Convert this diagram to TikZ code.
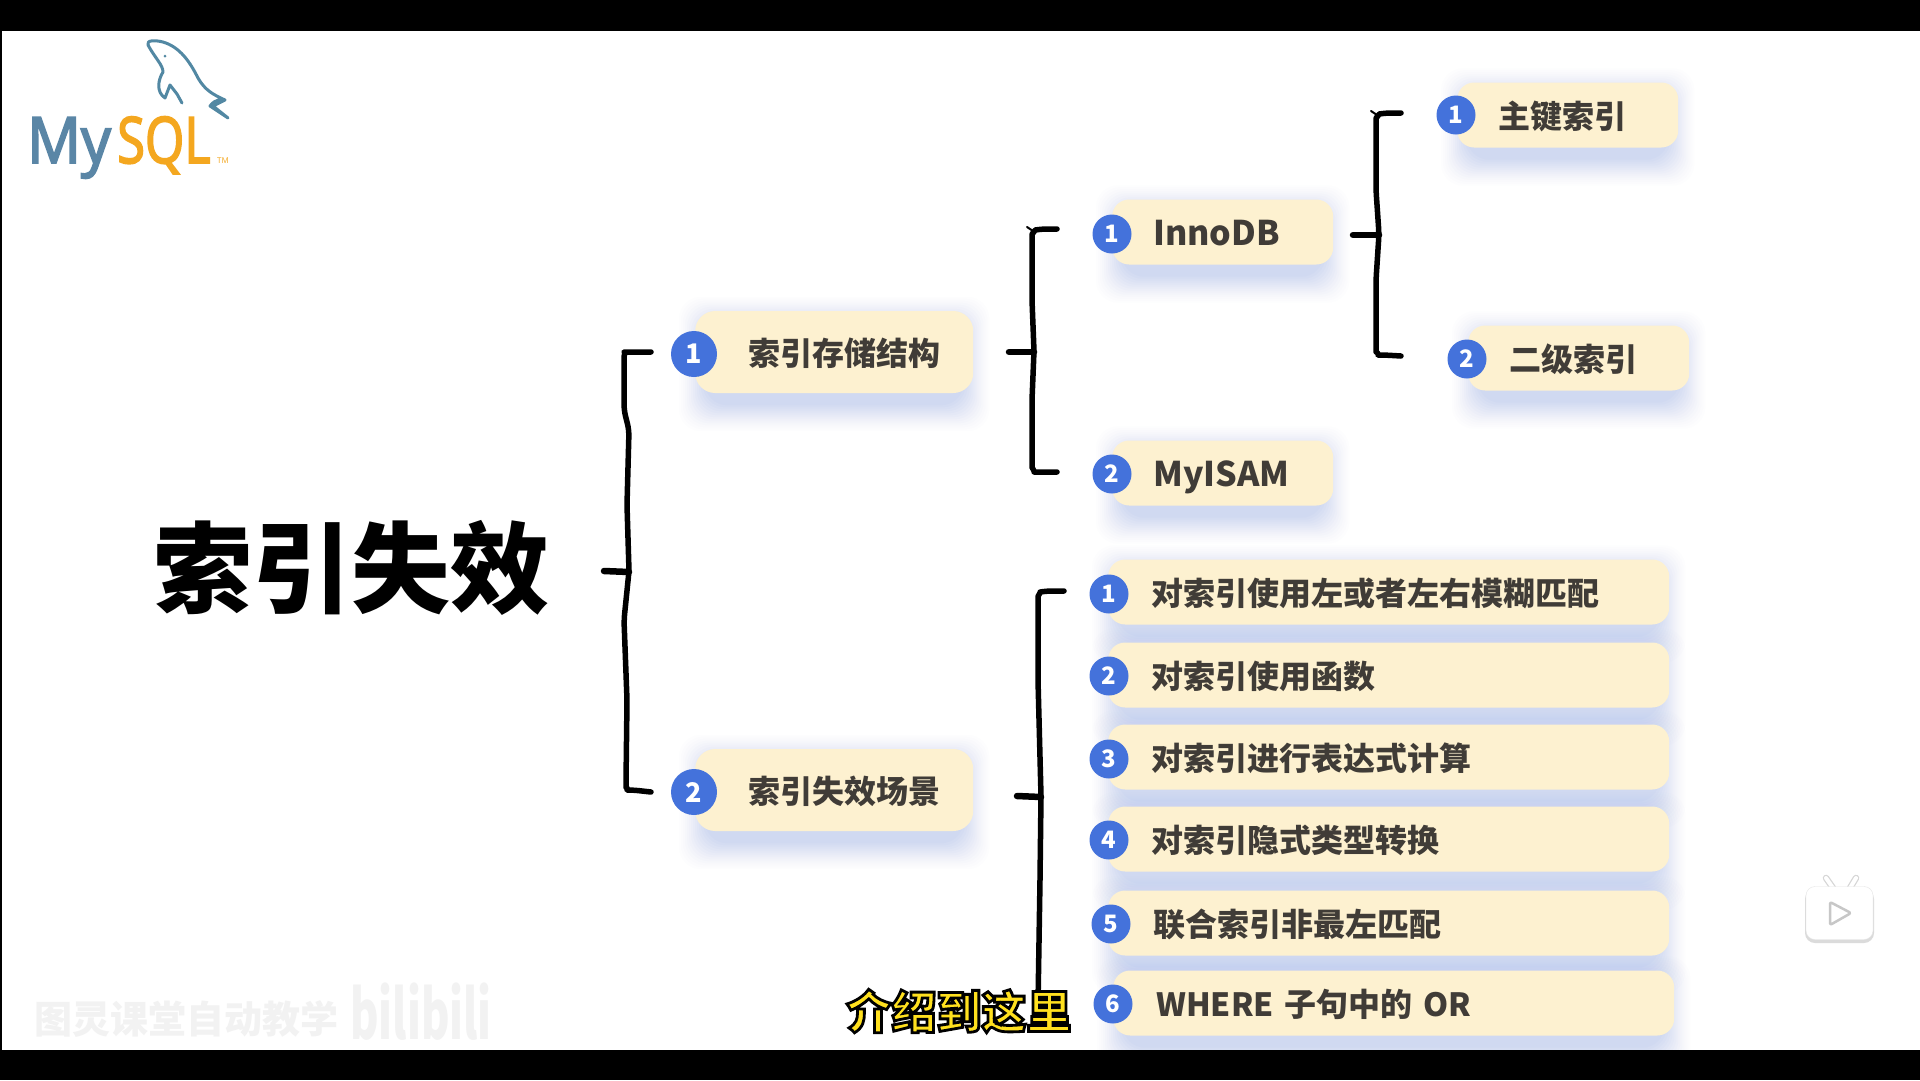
\documentclass[tikz,border=0pt]{standalone}
\usepackage{fontspec}
\setmainfont{Noto Sans CJK SC}
\newfontfamily\logofont[FakeBold=3]{Open Sans}
\newfontfamily\tmfont{Open Sans}
\usetikzlibrary{backgrounds}
\definecolor{cream}{HTML}{FDF1D0}
\definecolor{ink}{HTML}{403C37}
\definecolor{dotblue}{HTML}{4472DB}
\definecolor{glow}{HTML}{7F9CF0}
\definecolor{logoblue}{HTML}{5A86A6}
\definecolor{logoorange}{HTML}{F4A71F}
\definecolor{dolphin}{HTML}{5288A3}
\definecolor{subyellow}{HTML}{FFE01E}
\newcommand{\fsz}[1]{\fontsize{#1}{#1}\selectfont}
\tikzset{
  x=1pt,y=-1pt,
  cardbox/.style={fill=cream,rounded corners=#1,draw=none,anchor=west,align=left,text=ink,font=\bfseries\fsz{32},text height=31pt,text depth=5pt},
  sizeA/.style={cardbox=20pt,minimum width=278pt,minimum height=82pt,inner xsep=53pt,text width=172pt},
  sizeB/.style={cardbox=17pt,minimum width=221pt,minimum height=65pt,inner xsep=41pt,text width=139pt,font=\bfseries\fsz{34}},
  sizeC/.style={cardbox=17pt,minimum width=221pt,minimum height=65pt,inner xsep=41pt,text width=139pt},
  sizeD/.style={cardbox=17pt,minimum width=561pt,minimum height=65pt,inner xsep=43pt,text width=475pt},
  numdot/.style={circle,fill=dotblue,text=white,font=\bfseries\fsz{#1},inner sep=0pt,minimum size=39pt},
  bigdot/.style={numdot=27,minimum size=46pt},
  hand/.style={draw=black,line width=5.5pt,line cap=round,line join=round,rounded corners=6pt},
  lightmark/.style={text=black!5,font=\bfseries\fsz{38}},
}
\newcommand{\softshadow}[1]{%
  \foreach \e/\op in {26/.012,24/.014,22/.016,20/.018,18/.022,16/.024,14/.028,12/.03,10/.032,8/.034,6/.036,4/.038,2/.04,0/.04}{%
    \fill[glow,opacity=\op,rounded corners=22pt]
      ([shift={(-\e+10,-\e+12)}]#1.north west) rectangle ([shift={(\e-10,\e+12)}]#1.south east);
  }}
\begin{document}
\begin{tikzpicture}
\useasboundingbox (0,0) rectangle (1920,1080);

% MySQL logo
\node[anchor=base west,inner sep=0pt,font=\logofont\fsz{64}] (logomy) at (27,163) {\scalebox{.93}[1]{\textcolor{logoblue}{My}}};
\node[anchor=base west,inner sep=0pt,font=\logofont\fsz{64}] (logosql) at (117,163) {\scalebox{.79}[1]{\textcolor{logoorange}{SQL}}};
\node[anchor=base west,inner sep=0pt,text=logoorange,font=\tmfont\fsz{8}] (logotm) at (217,163) {TM};
\draw[dolphin,line width=3pt,line join=round,line cap=round]
  (148,45) .. controls (146,40) and (155,40) .. (163,42)
  .. controls (180,47) and (190,62) .. (198,78)
  .. controls (205,90) and (212,94) .. (225,100)
  -- (213,106) -- (228,118) -- (210,106)
  .. controls (216,98) and (222,100) .. (225,100);
\draw[dolphin,line width=3pt,line join=round,line cap=round]
  (148,45) .. controls (155,58) and (163,65) .. (163,72)
  .. controls (158,80) and (156,92) .. (165,98)
  -- (170,85) -- (177,94) -- (182,103);
\fill[dolphin] (165,56) circle (1.5pt);

% Title
\node[font=\bfseries\fsz{99},text=black,inner sep=0pt] (title) at (351,568) {索引失效};

% Level 1
\node[sizeA] (s1) at (695,352) {索引存储结构};
\node[sizeA] (s2) at (695,790) {索引失效场景};
\node[bigdot] (s1n) at (694,354) {1};
\node[bigdot] (s2n) at (694,792) {2};

% Storage
\node[sizeB] (inno) at (1112,232) {InnoDB};
\node[sizeB] (isam) at (1112,473) {MyISAM};
\node[numdot=24] (innon) at (1112,234) {1};
\node[numdot=24] (isamn) at (1112,474) {2};

\node[sizeC] (pk) at (1457,115) {主键索引};
\node[sizeC] (sk) at (1468,358) {二级索引};
\node[numdot=24] (pkn) at (1456,115) {1};
\node[numdot=24] (skn) at (1467,359) {2};

% Scenarios
\node[sizeD] (c1) at (1108,592) {对索引使用左或者左右模糊匹配};
\node[sizeD] (c2) at (1108,675) {对索引使用函数};
\node[sizeD] (c3) at (1108,757) {对索引进行表达式计算};
\node[sizeD] (c4) at (1108,839) {对索引隐式类型转换};
\node[sizeD,inner xsep=45pt,text width=471pt] (c5) at (1108,923) {联合索引非最左匹配};
\node[sizeD,inner xsep=43pt,minimum width=561pt,text width=475pt] (c6) at (1113,1003) {WHERE 子句中的 OR};
\node[numdot=24] (c1n) at (1109,594) {1};
\node[numdot=24] (c2n) at (1109,676) {2};
\node[numdot=24] (c3n) at (1109,759) {3};
\node[numdot=24] (c4n) at (1109,840) {4};
\node[numdot=24] (c5n) at (1111,924) {5};
\node[numdot=24] (c6n) at (1113,1004) {6};

% Brace tips
\coordinate (b1root) at (604,571);
\coordinate (b1top) at (651,352);
\coordinate (b1bot) at (651,792);
\coordinate (b2root) at (1009,352);
\coordinate (b2top) at (1057,229);
\coordinate (b2bot) at (1057,472);
\coordinate (b3root) at (1353,235);
\coordinate (b3top) at (1401,113);
\coordinate (b3bot) at (1401,356);
\coordinate (b4root) at (1017,796);
\coordinate (b4top) at (1064,591);
\coordinate (b4end) at (1038,1004);

\draw[hand] (b1top) -- (630,352) to[out=180,in=90] (624,362) -- (624,410) -- (629,430) -- (627,505) -- (629,571) -- (624,620) -- (627,700) -- (626,782) to[out=270,in=180] (633,790) -- (b1bot);
\draw[hand,line width=6.5pt] (b1root) -- (629,572);
\draw[hand] (b2top) -- (1041,229) to[out=190,in=90] (1032,240) -- (1032,300) -- (1034,351) -- (1032,400) -- (1032,462) to[out=270,in=180] (1040,472) -- (b2bot);
\draw[hand,line width=6.5pt] (b2root) -- (1034,352);
\draw[line width=2pt,line cap=round] (1033,231) -- (1027,227);
\draw[hand] (b3top) -- (1385,113) to[out=190,in=90] (1376,124) -- (1376,190) -- (1379,234) -- (1376,280) -- (1376,346) to[out=270,in=180] (1384,355) -- (b3bot);
\draw[hand,line width=6.5pt] (b3root) -- (1379,235);
\draw[line width=2pt,line cap=round] (1377,115) -- (1371,111);
\draw[hand] (b4top) -- (1046,591) to[out=190,in=90] (1038,602) -- (1038,680) -- (1041,796) -- (1040,880) -- (b4end);
\draw[hand,line width=6.5pt] (b4root) -- (1041,797);

% Subtitle
\node[inner sep=0pt,text=subyellow,font=\bfseries\fsz{45}] (subtitle) at (959,1011)
  {\special{pdf:code q 2 Tr 2.8 w 0 0 0 RG}介绍到这里\special{pdf:code Q}};

% Play badge
\draw[black!16,line width=6.5pt,line cap=round] (1833,888) -- (1826,878) (1850,888) -- (1856,878);
\draw[white,line width=4pt,line cap=round] (1833,888) -- (1826,878) (1850,888) -- (1856,878);
\fill[black!14,rounded corners=10pt] (1805,889) rectangle (1874,943);
\node[draw=black!10,fill=white,rounded corners=9pt,minimum width=67pt,minimum height=53pt,inner sep=0pt] (badge) at (1839.5,913) {};
\draw[draw=black!22,fill=white,line width=2.5pt,line join=round,rounded corners=2pt] (1830,902) -- (1851,913) -- (1830,925) -- cycle;

\begin{pgfonlayer}{background}
  \fill[white] (0,0) rectangle (1920,1080);
  \softshadow{s1}\softshadow{s2}\softshadow{inno}\softshadow{isam}
  \softshadow{pk}\softshadow{sk}\softshadow{c1}\softshadow{c2}
  \softshadow{c3}\softshadow{c4}\softshadow{c5}\softshadow{c6}
  \fill[black] (0,0) rectangle (1920,31);
  \fill[black] (0,1050) rectangle (1920,1080);
  \fill[black] (0,0) rectangle (1.5,1080);
  \node[lightmark,anchor=west,inner sep=0pt] (markcn) at (34,1019) {图灵课堂自动教学};
  \node[lightmark,anchor=west,inner sep=0pt,font=\bfseries\fsz{62}] (markbili) at (350,1012) {\scalebox{.7}[1.1]{bilibili}};
\end{pgfonlayer}
\end{tikzpicture}
\end{document}
